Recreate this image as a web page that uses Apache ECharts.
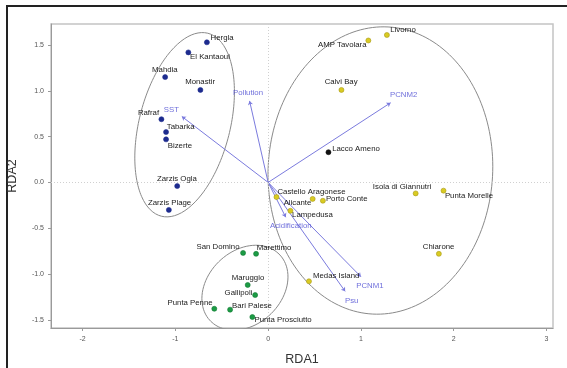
<!DOCTYPE html>
<html><head><meta charset="utf-8">
<script src="https://cdn.jsdelivr.net/npm/echarts@6/dist/echarts.min.js"></script>
<style>html,body{margin:0;padding:0;background:#fff}#c{width:567px;height:368px}</style>
</head><body><div id="c"></div>
<script>
// ---- data ----
const blueNames = ['Hergla','El Kantaoui','Mahdia','Monastir','Rafraf','Tabarka','Bizerte','Zarzis Ogla','Zarzis Plage'];
const blueX = [-0.66,-0.86,-1.11,-0.73,-1.15,-1.10,-1.10,-0.98,-1.07];
const blueY = [1.53,1.42,1.15,1.01,0.69,0.55,0.47,-0.04,-0.30];

const yellowNames = ['AMP Tavolara','Livorno','Calvi Bay','Castello Aragonese','Alicante','Porto Conte','Lampedusa','Isola di Giannutri','Punta Morelle','Chiarone','Medas Island'];
const yellowX = [1.08,1.28,0.79,0.09,0.48,0.59,0.24,1.59,1.89,1.84,0.44];
const yellowY = [1.55,1.61,1.01,-0.16,-0.18,-0.20,-0.31,-0.12,-0.09,-0.78,-1.08];

const blackNames = ['Lacco Ameno'];
const blackX = [0.65];
const blackY = [0.33];

const greenNames = ['San Domino','Marettimo','Maruggio','Gallipoli','Punta Penne','Bari Palese','Punta Prosciutto'];
const greenX = [-0.27,-0.13,-0.22,-0.14,-0.58,-0.41,-0.17];
const greenY = [-0.77,-0.78,-1.12,-1.23,-1.38,-1.39,-1.47];

const envNames = ['SST','Pollution','PCNM2','Acidification','PCNM1','Psu'];
const envX = [-0.93,-0.20,1.32,0.19,1.00,0.83];
const envY = [0.72,0.89,0.87,-0.38,-1.03,-1.19];

// ellipse parameters: centre x, centre y, semi-major, semi-minor, angle (deg)
const ellipseCX = [-0.90, 1.21, -0.25];
const ellipseCY = [0.63, 0.13, -1.15];
const ellipseA = [1.03, 1.57, 0.52];
const ellipseB = [0.49, 1.21, 0.40];
const ellipseAng = [76, 87, 45];

const xTicks = [-2,-1,0,1,2,3];
const yTicks = [-1.5,-1,-0.5,0,0.5,1,1.5];

// ---- label placement (style): align, dx, dy from the point ----
const labelPlace = {
  'Hergla':['left',4,-4.5],'El Kantaoui':['left',2,5],'Mahdia':['center',0,-7.3],'Monastir':['center',0,-7.7],
  'Rafraf':['right',-2,-5.7],'Tabarka':['left',1,-5],'Bizerte':['left',2,6.5],'Zarzis Ogla':['center',0,-7],
  'Zarzis Plage':['center',1,-6.8],
  'AMP Tavolara':['right',-1.5,4.3],'Livorno':['left',3.6,-5],'Calvi Bay':['center',0,-7.7],
  'Castello Aragonese':['left',1.3,-5],'Alicante':['right',-1,4.4],'Porto Conte':['left',3.3,-2],
  'Lampedusa':['left',2,4.6],'Isola di Giannutri':['center',-13.3,-6],'Punta Morelle':['left',1.7,5.4],
  'Chiarone':['center',0,-7],'Medas Island':['left',4.3,-4.7],'Lacco Ameno':['left',4,-3],
  'San Domino':['right',-3.3,-5.6],'Marettimo':['left',1,-5.6],'Maruggio':['center',0.6,-7],
  'Gallipoli':['right',-2.5,-1.4],'Punta Penne':['right',-1.4,-6],'Bari Palese':['left',2.3,-3.7],
  'Punta Prosciutto':['left',2.4,3.3],
  'SST':['center',-10.5,-7],'Pollution':['center',-1.5,-8],'PCNM2':['center',13,-8],
  'Acidification':['center',5,8.5],'PCNM1':['center',9,9.5],'Psu':['center',6.5,9]
};
const FONT = "'Liberation Sans', Arial, Helvetica, sans-serif";

function pts(names, xs, ys, size){
  const h = size/2;
  return names.map((n,i)=>{
    const p = labelPlace[n] || ['left',3,0];
    return {name:n, value:[xs[i], ys[i]],
      label:{position:[h+p[1], h+p[2]], align:p[0], verticalAlign:'middle'}};
  });
}
function ellipse(k){
  const out = [];
  const t = ellipseAng[k]*Math.PI/180;
  for(let i=0;i<=180;i++){
    const a = i/180*2*Math.PI;
    const u = ellipseA[k]*Math.cos(a), v = ellipseB[k]*Math.sin(a);
    out.push([ellipseCX[k] + u*Math.cos(t) - v*Math.sin(t), ellipseCY[k] + u*Math.sin(t) + v*Math.cos(t)]);
  }
  return out;
}
const baseLabel = {show:true, formatter:'{b}', fontSize:7.8, color:'#1a1a1a', fontFamily:FONT};

function scatter(names, xs, ys, color, border){
  return {type:'scatter', data:pts(names,xs,ys,5), symbolSize:5, z:5,
    itemStyle:{color:color, borderColor:border, borderWidth:0.6, opacity:1},
    label:baseLabel, labelLayout:{hideOverlap:false}, emphasis:{disabled:true}, silent:true};
}

const series = [];
series.push({type:'line', data:[], markLine:{silent:true, symbol:'none', label:{show:false},
  lineStyle:{type:[1,2], color:'#d0d0d0', width:1}, data:[{xAxis:0},{yAxis:0}]}});
for(let k=0;k<3;k++){
  series.push({type:'line', data:ellipse(k), showSymbol:false, symbol:'none', silent:true,
    lineStyle:{color:'#8a8a8a', width:1}, z:2});
}
series.push({type:'lines', coordinateSystem:'cartesian2d', silent:true, z:3,
  symbol:['none','arrow'], symbolSize:4,
  lineStyle:{color:'#7b7bde', width:1, opacity:1},
  data: envNames.map((n,i)=>({coords:[[0,0],[envX[i],envY[i]]]}))});
series.push({type:'scatter', data:pts(envNames,envX,envY,2), symbolSize:2, z:4, silent:true,
  itemStyle:{color:'rgba(0,0,0,0)'},
  label:Object.assign({}, baseLabel, {color:'#4a4ad2'})});
series.push(scatter(blueNames,blueX,blueY,'#1d2b8e','#1d2b8e'));
series.push(scatter(yellowNames,yellowX,yellowY,'#d9cb22','#a8991a'));
series.push(scatter(blackNames,blackX,blackY,'#111','#111'));
series.push(scatter(greenNames,greenX,greenY,'#1c9b45','#137a33'));

const chart = echarts.init(document.getElementById('c'), null, {renderer:'canvas'});
chart.setOption({
  animation:false,
  backgroundColor:'#fff',
  grid:{left:51, right:14, top:24, bottom:40, show:true, borderColor:'#c4c4c4', borderWidth:1.5,
    containLabel:false, outerBoundsMode:'none'},
  xAxis:{type:'value', min:-2.34, max:3.07,
    name:'RDA1', nameLocation:'middle', nameGap:25,
    nameTextStyle:{fontSize:12.5, color:'#333', fontFamily:FONT},
    axisLine:{show:true, onZero:false, lineStyle:{color:'#9a9a9a', width:1}},
    axisTick:{show:true, customValues:xTicks, length:3, lineStyle:{color:'#9a9a9a'}},
    axisLabel:{customValues:xTicks, fontSize:7, color:'#555', margin:8, fontFamily:FONT,
      formatter:v=>String(v)},
    splitLine:{show:false}},
  yAxis:{type:'value', min:-1.59, max:1.73,
    name:'RDA2', nameLocation:'middle', nameGap:32, nameRotate:90,
    nameTextStyle:{fontSize:12.5, color:'#333', fontFamily:FONT},
    axisLine:{show:true, onZero:false, lineStyle:{color:'#9a9a9a', width:1}},
    axisTick:{show:true, customValues:yTicks, length:3, lineStyle:{color:'#9a9a9a'}},
    axisLabel:{customValues:yTicks, fontSize:7, color:'#555', margin:7, fontFamily:FONT,
      formatter:v=>v.toFixed(1)},
    splitLine:{show:false}},
  graphic:[
    {type:'line', shape:{x1:6, y1:6, x2:567, y2:6}, style:{stroke:'#222', lineWidth:2}, silent:true},
    {type:'line', shape:{x1:7, y1:5, x2:7, y2:368}, style:{stroke:'#222', lineWidth:2}, silent:true}
  ],
  series:series
});
</script>
</body></html>
